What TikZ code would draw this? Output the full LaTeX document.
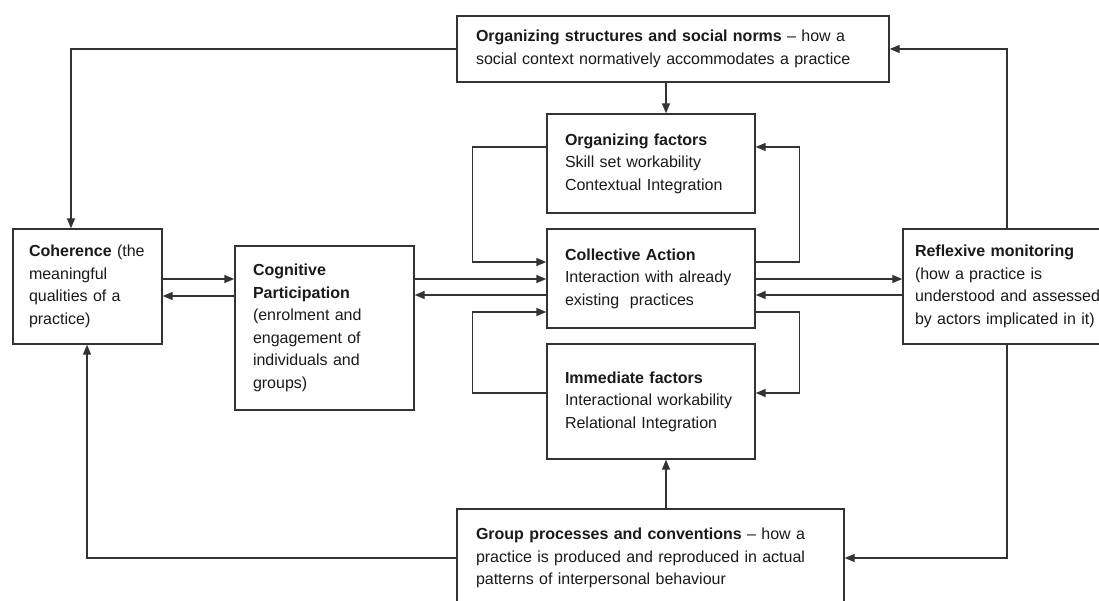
\documentclass[tikz,border=0pt]{standalone}
\usepackage{fontspec}
\setmainfont{Liberation Sans}
\usetikzlibrary{arrows.meta}
\definecolor{linec}{HTML}{333333}
\definecolor{textc}{HTML}{1A1A1A}
\tikzset{
  box/.style={draw=linec, line width=1.4pt, rectangle, align=left, text=textc,
    font=\fontsize{16}{22.5}\selectfont, inner ysep=0pt},
  arr/.style={draw=linec, line width=1.4pt, -{Triangle[length=10pt,width=8pt]}},
}
\begin{document}
\begin{tikzpicture}[x=1pt,y=-1pt]
\useasboundingbox (0,0) rectangle (1099,601);
\clip (0,0) rectangle (1099,601);
\fill[white] (0,0) rectangle (1099,601);
% boxes
\node[box, minimum width=432pt, minimum height=66pt, inner xsep=19pt, text width=394pt] (top) at (673,49)
  {\textbf{Organizing structures and social norms} -- how a\\social context normatively accommodates a practice};
\node[box, minimum width=208pt, minimum height=99pt, inner xsep=18pt, text width=172pt] (of) at (651,163.5)
  {\textbf{Organizing factors}\\Skill set workability\\Contextual Integration};
\node[box, minimum width=208pt, minimum height=99pt, inner xsep=18pt, text width=172pt] (ca) at (651,278.5)
  {\textbf{Collective Action}\\Interaction with already\\existing\ \ practices};
\node[box, minimum width=208pt, minimum height=115pt, inner xsep=18pt, text width=172pt] (imf) at (651,401.5)
  {\textbf{Immediate factors}\\Interactional workability\\Relational Integration};
\node[box, minimum width=149pt, minimum height=115pt, inner xsep=16pt, text width=117pt] (coh) at (87.5,286.5)
  {\textbf{Coherence} (the\\meaningful\\qualities of a\\practice)};
\node[box, minimum width=179pt, minimum height=164pt, inner xsep=18pt, text width=143pt] (cog) at (324.5,328)
  {\textbf{Cognitive}\\\textbf{Participation}\\(enrolment and\\engagement of\\individuals and\\groups)};
\node[box, minimum width=208pt, minimum height=115pt, inner xsep=12pt, text width=184pt] (refl) at (1007,286.5)
  {\mbox{\textbf{Reflexive monitoring}}\\\mbox{(how a practice is}\\\mbox{understood and assessed}\\\mbox{by actors implicated in it)}};
\node[box, minimum width=387pt, minimum height=98pt, inner xsep=19pt, text width=349pt] (grp) at (650.5,558)
  {\textbf{Group processes and conventions} -- how a\\practice is produced and reproduced in actual\\patterns of interpersonal behaviour};
% connectors
\draw[arr] (top.west) -| ([xshift=-16.5pt]coh.north);
\draw[arr] ([xshift=-7pt]top.south) -- ([xshift=-7pt]top.south |- of.north);
\draw[arr] ([yshift=16.5pt]of.west) -- ++(-74,0) |- ([yshift=16.5pt]ca.west);
\draw[arr] ([yshift=16.5pt]ca.east) -- ++(44,0) |- ([yshift=16.5pt]of.east);
\draw[arr] ([yshift=8.5pt]imf.west) -- ++(-74,0) |- ([yshift=-33.5pt]ca.west);
\draw[arr] ([yshift=-33.5pt]ca.east) -- ++(44,0) |- ([yshift=8.5pt]imf.east);
\draw[arr] ([yshift=49pt]cog.east) -- ([yshift=49pt]cog.east -| ca.west);
\draw[arr] ([yshift=33pt]cog.east -| ca.west) -- ([yshift=33pt]cog.east);
\draw[arr] ([yshift=7.5pt]coh.east) -- ([yshift=7.5pt]coh.east -| cog.west);
\draw[arr] ([yshift=-9.5pt]coh.east -| cog.west) -- ([yshift=-9.5pt]coh.east);
\draw[arr] ([yshift=-0.5pt]ca.east) -- ([yshift=-0.5pt]ca.east -| refl.west);
\draw[arr] ([yshift=-16.5pt]ca.east -| refl.west) -- ([yshift=-16.5pt]ca.east);
\draw[arr] (refl.north) |- (top.east);
\draw[arr] (refl.south) |- (grp.east);
\draw[arr] ([xshift=15.5pt]grp.north) -- ([xshift=15.5pt]grp.north |- imf.south);
\draw[arr] (grp.west) -| ([xshift=-0.5pt]coh.south);
\end{tikzpicture}
\end{document}
